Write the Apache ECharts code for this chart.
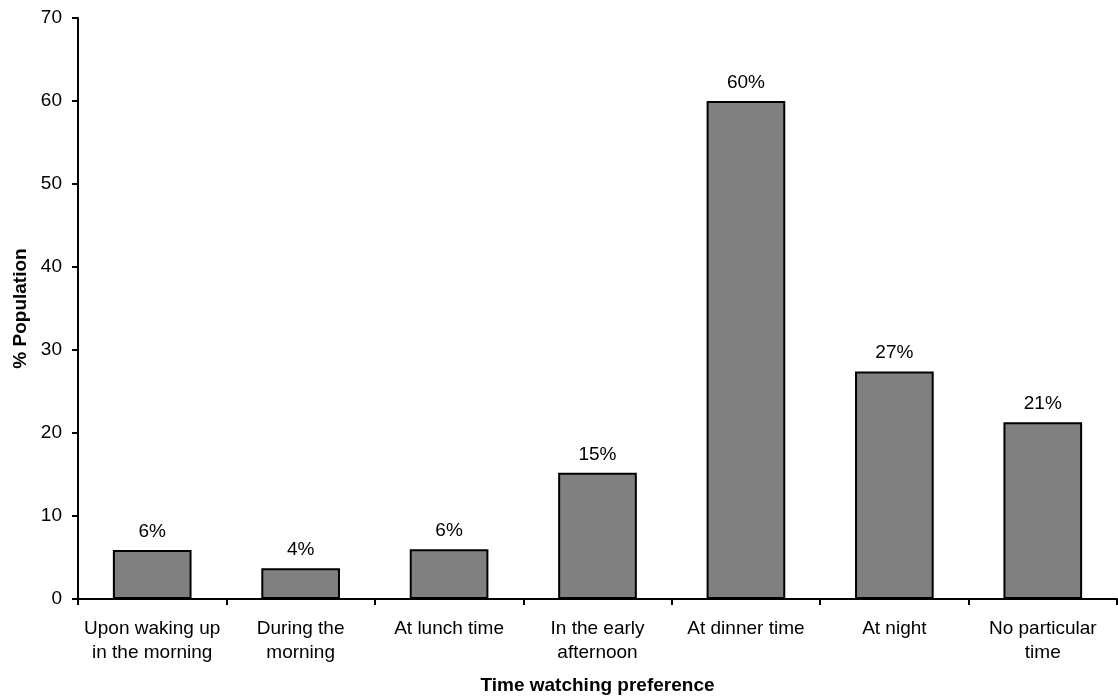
<!DOCTYPE html>
<html>
<head>
<meta charset="utf-8">
<script src="https://cdn.jsdelivr.net/npm/echarts@6/dist/echarts.min.js"></script>
<style>html,body{margin:0;padding:0;background:#fff;}#c{width:1118px;height:699px;}</style>
</head>
<body>
<div id="c"></div>
<script>
const categories = ['Upon waking up\nin the morning', 'During the\nmorning', 'At lunch time', 'In the early\nafternoon', 'At dinner time', 'At night', 'No particular\ntime'];
const values = [5.9, 3.7, 6.0, 15.2, 60.0, 27.4, 21.3];
const yTicks = { min: 0, max: 70, interval: 10 };

const chart = echarts.init(document.getElementById('c'), null, { renderer: 'canvas' });
const font = 'Liberation Sans, Arial, sans-serif';
chart.setOption({
  animation: false,
  backgroundColor: '#fff',
  grid: { left: 78, right: 1, top: 18, bottom: 100, containLabel: false, outerBoundsMode: 'none' },
  xAxis: {
    type: 'category',
    data: categories,
    boundaryGap: true,
    name: 'Time watching preference',
    nameLocation: 'middle',
    nameGap: 77,
    nameTextStyle: { fontFamily: font, fontSize: 19, fontWeight: 'bold', color: '#000' },
    axisLine: { lineStyle: { color: '#000', width: 2 } },
    axisTick: { show: true, alignWithLabel: false, length: 6, lineStyle: { color: '#000', width: 2 } },
    axisLabel: { fontFamily: font, fontSize: 19, color: '#000', margin: 18, lineHeight: 24, interval: 0 }
  },
  yAxis: {
    type: 'value',
    min: yTicks.min, max: yTicks.max, interval: yTicks.interval,
    name: '% Population',
    nameLocation: 'middle',
    nameGap: 48,
    nameRotate: 90,
    nameTextStyle: { fontFamily: font, fontSize: 19, fontWeight: 'bold', color: '#000' },
    axisLine: { show: true, lineStyle: { color: '#000', width: 2 } },
    axisTick: { show: true, length: 6, lineStyle: { color: '#000', width: 2 } },
    axisLabel: { fontFamily: font, fontSize: 19, color: '#000', margin: 16 },
    splitLine: { show: false }
  },
  series: [{
    type: 'bar',
    data: values,
    barWidth: '53%',
    itemStyle: { color: '#808080', borderColor: '#000', borderWidth: 2 },
    label: {
      show: true, position: 'top', distance: 9,
      fontFamily: font, fontSize: 19, color: '#000',
      formatter: p => Math.round(p.value) + '%'
    }
  }]
});
</script>
</body>
</html>
